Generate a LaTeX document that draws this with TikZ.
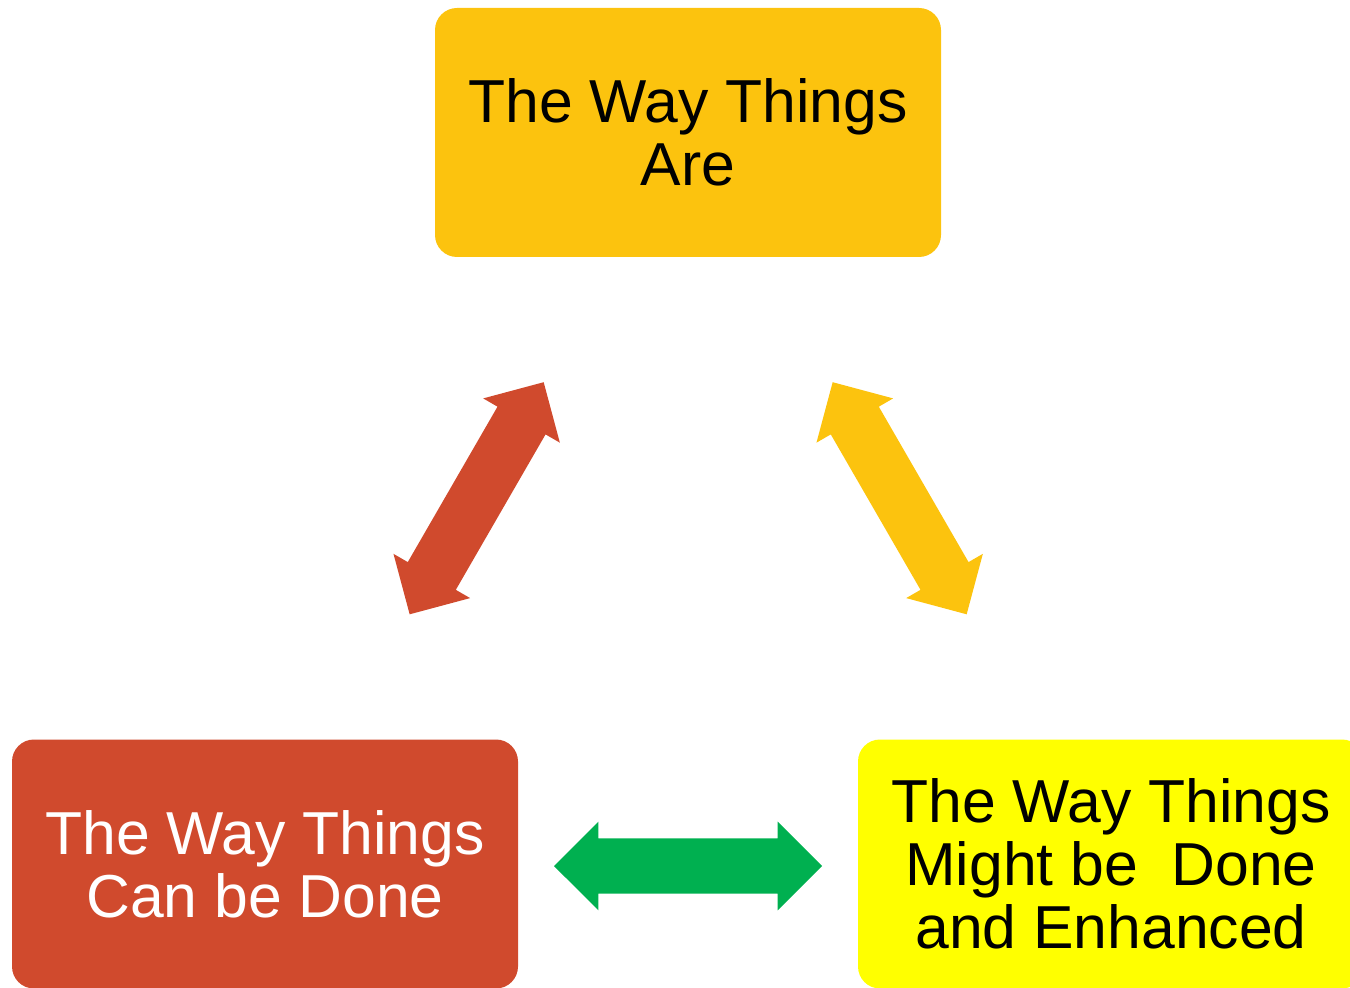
\documentclass[tikz,border=0pt]{standalone}
\usepackage{fontspec}
\setmainfont{Liberation Sans}
\usetikzlibrary{shapes.arrows}

\definecolor{gold}{RGB}{252,195,14}
\definecolor{brick}{RGB}{208,74,45}
\definecolor{leaf}{RGB}{0,176,80}
\definecolor{lemon}{RGB}{255,255,0}

\begin{document}
\begin{tikzpicture}[x=0.75pt,y=0.75pt,yscale=-1,xscale=1,
  box/.style={rounded corners=16.5pt, minimum width=379.5pt, minimum height=186.75pt,
    inner sep=0pt, align=center, font=\fontsize{45.5}{47.25}\selectfont},
  twoway/.style={double arrow, double arrow head extend=12.4pt, minimum height=201pt,
    inner xsep=0pt, inner ysep=20.6pt}]
\useasboundingbox (0,0) rectangle (1350,988);

%Shape: Rounded Rectangle [top]
\node[box, fill=gold] (are) at (688,132.5) {The Way Things\\Are};
%Shape: Rounded Rectangle [bottom left]
\node[box, fill=brick, text=white] (can) at (265,864) {The Way Things\\Can be Done};
%Shape: Rounded Rectangle [bottom right]
\node[box, fill=lemon] (might) at (1111,864) {The Way Things\\Might be\ \ Done\\and Enhanced};

%Double Arrows between the boxes
\path (can) -- (are) node[midway, twoway, rotate=60, fill=brick] (canare) {};
\path (are) -- (might) node[midway, twoway, rotate=-60, fill=gold] (aremight) {};
\path (can) -- (might) node[midway, twoway, fill=leaf, yshift=-1.5pt] (canmight) {};

\end{tikzpicture}
\end{document}
